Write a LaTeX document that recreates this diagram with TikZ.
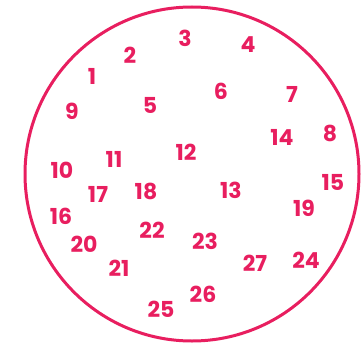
\documentclass[tikz,border=0pt]{standalone}
\usepackage{fontspec}
\setmainfont{Poppins}
\definecolor{pinkred}{RGB}{232,30,95}
\begin{document}
\begin{tikzpicture}[x=1pt,y=-1pt,
  num/.style={text=pinkred,font=\fontsize{22}{22}\selectfont\bfseries,inner sep=0pt,anchor=center},
  ring/.style={draw=pinkred,line width=3pt}]
\useasboundingbox (0,0) rectangle (364,345);
\draw[ring] (192,174) circle[radius=167pt];
\node[num] (n1) at (92,76) {1};
\node[num] (n2) at (130,55) {2};
\node[num] (n3) at (185,38) {3};
\node[num] (n4) at (248,45) {4};
\node[num] (n5) at (150,105) {5};
\node[num] (n6) at (221,91) {6};
\node[num] (n7) at (292,94) {7};
\node[num] (n8) at (330,133) {8};
\node[num] (n9) at (72,111) {9};
\node[num] (n10) at (62,170) {10};
\node[num] (n11) at (114,159) {11};
\node[num] (n12) at (186,152) {12};
\node[num] (n13) at (231,190) {13};
\node[num] (n14) at (282,137) {14};
\node[num] (n15) at (333,182) {15};
\node[num] (n16) at (61,216) {16};
\node[num] (n17) at (98,194) {17};
\node[num] (n18) at (146,191) {18};
\node[num] (n19) at (304,208) {19};
\node[num] (n20) at (84,244) {20};
\node[num] (n21) at (119,268) {21};
\node[num] (n22) at (152,230) {22};
\node[num] (n23) at (205,241) {23};
\node[num] (n24) at (306,260) {24};
\node[num] (n25) at (161,309) {25};
\node[num] (n26) at (203,294) {26};
\node[num] (n27) at (255,263) {27};
\end{tikzpicture}
\end{document}
